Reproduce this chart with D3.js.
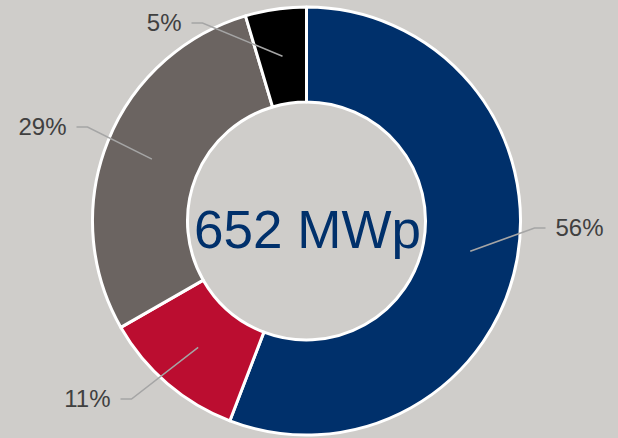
<!DOCTYPE html>
<html>
<head>
<meta charset="utf-8">
<script src="https://cdnjs.cloudflare.com/ajax/libs/d3/7.8.5/d3.min.js"></script>
<style>
  html, body { margin: 0; padding: 0; background: #cfcdca; }
  svg { display: block; font-family: "Liberation Sans", Arial, sans-serif; }
</style>
</head>
<body>
<svg></svg>
<script>
// capacity per segment, MWp (clockwise from 12 o'clock)
var segments = ["seg1", "seg2", "seg3", "seg4"];
var capacity = [364, 71, 187, 30];
var colors = ["#00306b", "#bb0d30", "#6b6461", "#000000"];
var totalLabel = "652 MWp";

// where each leader line bends, relative to the centre
var elbows = [[228, 7], [-175, 178], [-219, -94], [-104, -198]];

var width = 618,
    height = 438,
    cx = 306.5,
    cy = 221,
    outerR = 214,
    innerR = 119;

var svg = d3.select("svg")
    .attr("width", width)
    .attr("height", height);

var g = svg.append("g")
    .attr("transform", "translate(" + cx + "," + cy + ")");

var data = segments.map(function(s, i) { return { name: s, value: capacity[i], color: colors[i], elbow: elbows[i] }; });
var total = d3.sum(capacity);
var fmt = d3.format(".0%");

var pie = d3.pie()
    .sort(null)
    .value(function(d) { return d.value; });

var arc = d3.arc()
    .innerRadius(innerR)
    .outerRadius(outerR);

var mid = d3.arc()
    .innerRadius((innerR + outerR) / 2)
    .outerRadius((innerR + outerR) / 2);

var arcs = pie(data);

g.selectAll("path.slice")
    .data(arcs)
    .enter().append("path")
    .attr("class", "slice")
    .attr("d", arc)
    .attr("fill", function(d) { return d.data.color; })
    .attr("stroke", "#fff")
    .attr("stroke-width", 3)
    .attr("stroke-linejoin", "round");

// leader lines
g.selectAll("polyline")
    .data(arcs)
    .enter().append("polyline")
    .attr("fill", "none")
    .attr("stroke", "#a5a5a5")
    .attr("stroke-width", 1.5)
    .attr("points", function(d) {
      var c = mid.centroid(d), e = d.data.elbow;
      var dir = e[0] > 0 ? 1 : -1;
      return [c, e, [e[0] + dir * 11, e[1]]].map(function(p) { return p.join(","); }).join(" ");
    });

g.selectAll("text.pct")
    .data(arcs)
    .enter().append("text")
    .attr("class", "pct")
    .attr("x", function(d) { var e = d.data.elbow; return e[0] + (e[0] > 0 ? 21 : -21); })
    .attr("y", function(d) { return d.data.elbow[1]; })
    .attr("dy", "0.35em")
    .attr("text-anchor", function(d) { return d.data.elbow[0] > 0 ? "start" : "end"; })
    .attr("fill", "#404040")
    .style("font-size", "24px")
    .text(function(d) { return fmt(d.data.value / total); });

g.append("text")
    .attr("text-anchor", "middle")
    .attr("x", 1)
    .attr("y", 8)
    .attr("dy", "0.36em")
    .attr("fill", "#00306b")
    .style("font-size", "53px")
    .text(totalLabel);
</script>
</body>
</html>
